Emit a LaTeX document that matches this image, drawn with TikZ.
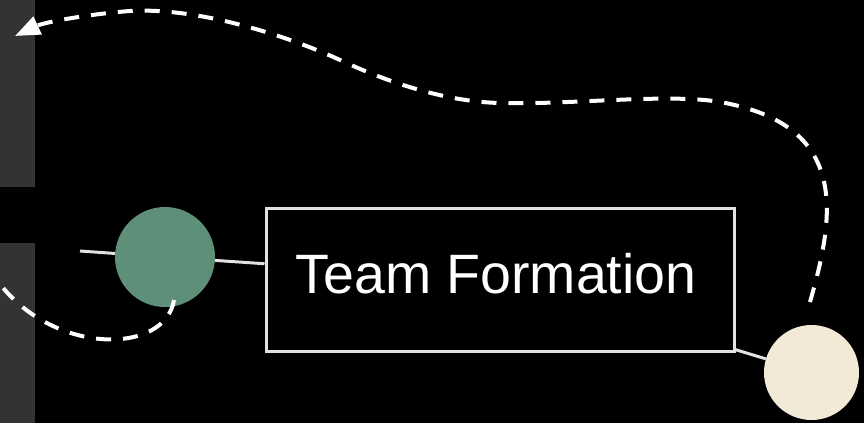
\documentclass[tikz,border=0pt]{standalone}
\usepackage{fontspec}
\setmainfont{Liberation Sans}
\usetikzlibrary{arrows.meta}
\definecolor{bargray}{HTML}{333333}
\definecolor{nodegreen}{HTML}{5E8F78}
\definecolor{nodecream}{HTML}{F3E9D7}
\definecolor{linegray}{HTML}{E2E2E2}
\tikzset{
  sideblock/.style={fill=bargray, draw=none},
  bubble/.style={circle, draw=none, inner sep=0pt},
  titlebox/.style={rectangle, draw=linegray, line width=3pt, inner sep=0pt,
    minimum width=468pt, minimum height=143pt},
  link/.style={draw=linegray, line width=3pt},
  loop/.style={draw=white, line width=4pt, dash pattern=on 15pt off 12pt},
  titletext/.style={text=white, font=\fontsize{55.5}{60}\selectfont, inner sep=0pt}
}
\begin{document}
\begin{tikzpicture}[x=1pt,y=-1pt]
\useasboundingbox (0,0) rectangle (864,423);
\fill[black] (0,0) rectangle (864,423);
\begin{scope}
\clip (0,0) rectangle (864,423);
\fill[sideblock] (0,0) rectangle (35,187);
\fill[sideblock] (0,243) rectangle (35,423);

\node[titlebox] (box) at (500,279.5) {};
\node[titletext] (title) at (496,274) {Team Formation};
\node[bubble, fill=nodegreen, minimum size=100pt] (gc) at (165,257) {};
\node[bubble, fill=nodecream, minimum size=95pt] (cc) at (811.5,372.5) {};

\coordinate (lin) at (80,251);
\draw[link] (lin) -- (gc);
\draw[link] (gc) -- (box);
\draw[link] (box) -- (cc);

\coordinate (s1) at (810,302);
\coordinate (m1) at (720,102);
\coordinate (m2) at (500,103);
\coordinate (m3) at (340,60);
\coordinate (m4) at (130,11);
\coordinate (t1) at (15,36);
\draw[loop, -{Triangle[length=25pt,width=19pt]}] (s1)
  .. controls (835,215) and (850,125) .. (m1)
  .. controls (668,93) and (570,105) .. (m2)
  .. controls (455,102) and (400,88) .. (m3)
  .. controls (290,37) and (200,7) .. (m4)
  .. controls (90,14) and (45,22) .. (t1);

\coordinate (s2) at (174,300);
\coordinate (t2) at (0,284);
\draw[loop] (s2) .. controls (165,355) and (55,355) .. (t2) -- ++(-20,-15);
\end{scope}
\end{tikzpicture}
\end{document}
